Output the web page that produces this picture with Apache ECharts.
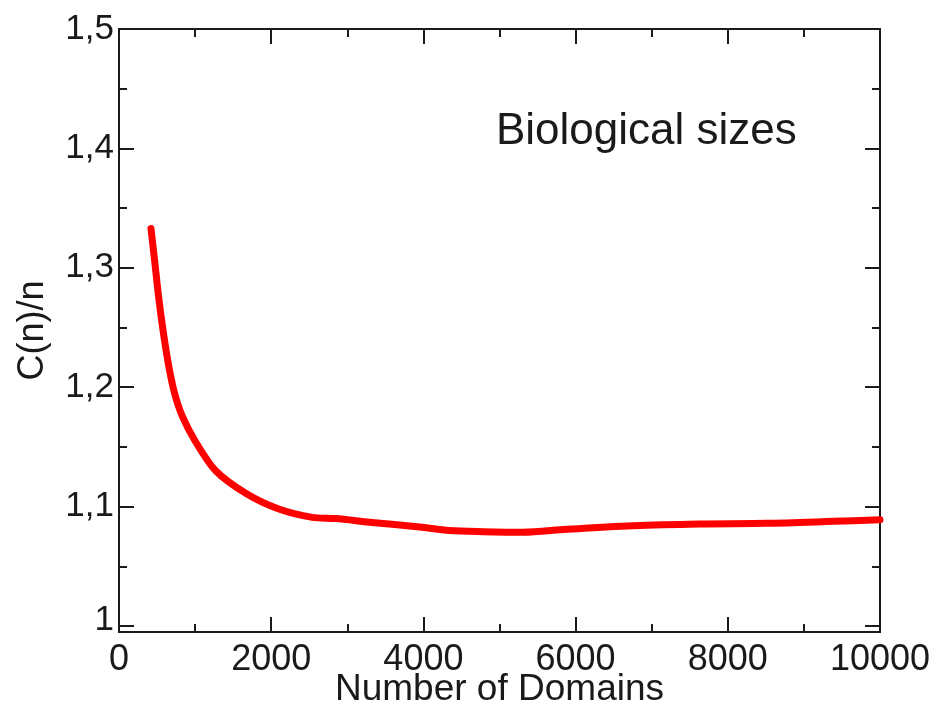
<!DOCTYPE html>
<html>
<head>
<meta charset="utf-8">
<title>C(n)/n vs Number of Domains</title>
<script src="https://cdn.jsdelivr.net/npm/echarts@6/dist/echarts.min.js"></script>
<style>
  html, body { margin: 0; padding: 0; background: #fff; }
  #chart { width: 937px; height: 706px; }
</style>
</head>
<body>
<div id="chart"></div>
<script>
// Number of domains (x) and the ratio C(n)/n (y) along the curve
const domainCounts = [420, 470, 520, 580, 650, 730, 830, 1000, 1270, 1670, 2100, 2540, 2850, 3290, 3950, 4340, 4780, 5310, 5880, 6750, 7630, 8510, 9390, 10000];
const ratioValues  = [1.333, 1.305, 1.276, 1.247, 1.219, 1.195, 1.176, 1.155, 1.130, 1.111, 1.098, 1.091, 1.090, 1.087, 1.083, 1.080, 1.079, 1.0785, 1.081, 1.084, 1.0855, 1.086, 1.0877, 1.089];

// Axis ticks
const yMajorTicks = [1, 1.1, 1.2, 1.3, 1.4, 1.5];
const yMinorTicks = [1.05, 1.15, 1.25, 1.35, 1.45];
const xTickStep = 2000;
const annotation = 'Biological sizes';

const FONT = '"Liberation Sans", Arial, Helvetica, sans-serif';
const INK = '#1a1a1a';
const Y_MIN = 0.995, Y_MAX = 1.5;

const chart = echarts.init(document.getElementById('chart'), null, { renderer: 'canvas' });

const axisLine = { show: true, onZero: false, lineStyle: { color: INK, width: 2 } };

function yAxisDef(position, ticks, len, withLabels) {
  return {
    type: 'value', position: position, min: Y_MIN, max: Y_MAX,
    axisLine: axisLine,
    splitLine: { show: false },
    axisTick: { show: true, inside: true, length: len, customValues: ticks, lineStyle: { color: INK, width: 2 } },
    axisLabel: withLabels ? {
      show: true, customValues: ticks, margin: 5,
      fontFamily: FONT, fontSize: 35, color: INK,
      formatter: function (v) {
        const s = String(Math.round(v * 10) / 10).replace('.', ',');
        return v === 1 ? '{lift|' + s + '}' : s;
      },
      rich: { lift: { fontFamily: FONT, fontSize: 35, color: INK, padding: [0, 0, 12, 0] } }
    } : { show: false },
    name: withLabels ? 'C(n)/n' : '',
    nameLocation: 'middle', nameGap: 68, nameRotate: 90, nameMoveOverlap: false,
    nameTextStyle: { fontFamily: FONT, fontSize: 36, color: INK }
  };
}

function xAxisDef(position, withLabels) {
  return {
    type: 'value', position: position, min: 0, max: 10000, interval: xTickStep,
    axisLine: axisLine,
    splitLine: { show: false },
    axisTick: { show: true, inside: true, length: 15, lineStyle: { color: INK, width: 2 } },
    minorTick: { show: true, splitNumber: 2, length: 8, lineStyle: { color: INK, width: 2 } },
    minorSplitLine: { show: false },
    axisLabel: withLabels ? {
      show: true, margin: 10, fontFamily: FONT, fontSize: 36, color: INK,
      formatter: function (v) { return String(v); }
    } : { show: false },
    name: withLabels ? 'Number of Domains' : '',
    nameLocation: 'middle', nameGap: 39, nameMoveOverlap: false,
    nameTextStyle: { fontFamily: FONT, fontSize: 37, color: INK }
  };
}

chart.setOption({
  animation: false,
  backgroundColor: '#ffffff',
  grid: { left: 119, right: 57, top: 29, bottom: 74, containLabel: false, outerBoundsMode: 'none' },
  xAxis: [xAxisDef('bottom', true), xAxisDef('top', false)],
  yAxis: [
    yAxisDef('left', yMajorTicks, 15, true),
    yAxisDef('left', yMinorTicks, 8, false),
    yAxisDef('right', yMajorTicks, 15, false),
    yAxisDef('right', yMinorTicks, 8, false)
  ],
  graphic: [{
    type: 'text', left: 496, top: 110,
    style: { text: annotation, fontFamily: FONT, fontSize: 44, fill: INK }
  }],
  series: [{
    type: 'line',
    xAxisIndex: 0, yAxisIndex: 0,
    data: domainCounts.map((n, i) => [n, ratioValues[i]]),
    showSymbol: false,
    smooth: 0.3,
    lineStyle: { color: '#ff0000', width: 7, cap: 'round', join: 'round' },
    clip: true
  }]
});
</script>
</body>
</html>
